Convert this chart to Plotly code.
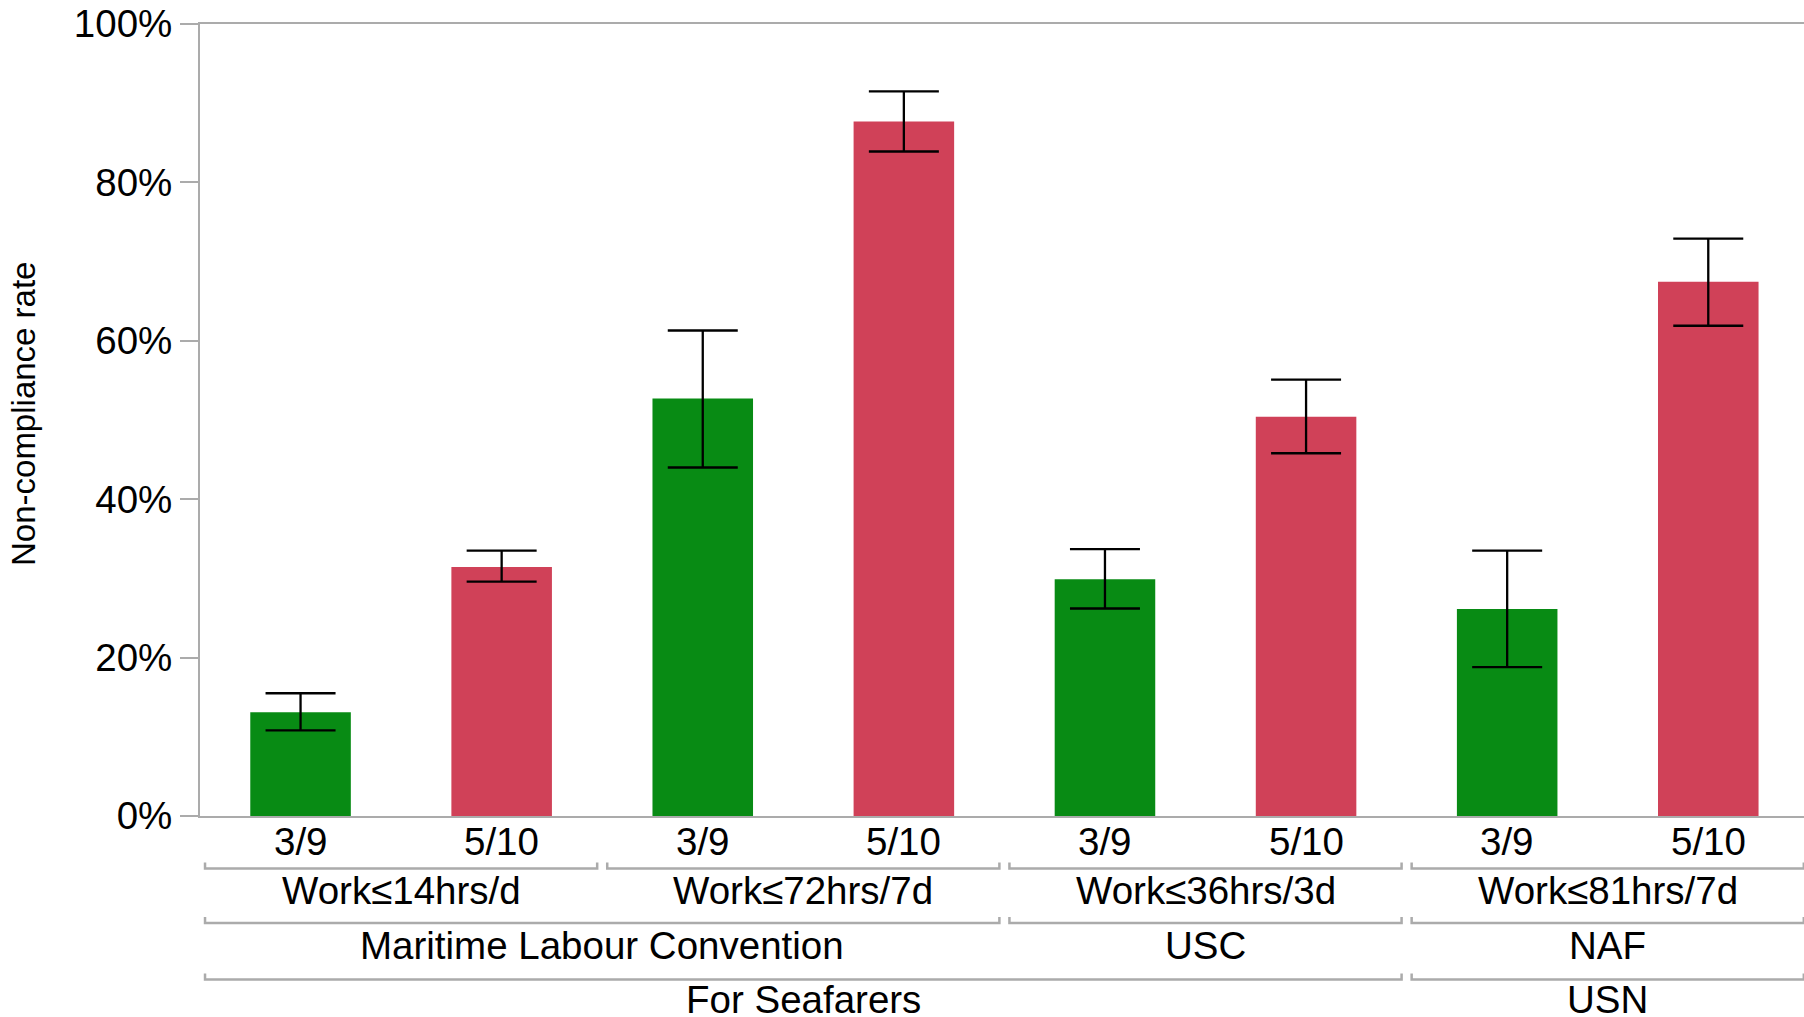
import plotly.graph_objects as go

# ---- data ----
periods = ["3/9", "5/10", "3/9", "5/10", "3/9", "5/10", "3/9", "5/10"]
values = [13.1, 31.45, 52.7, 87.7, 29.9, 50.4, 26.15, 67.45]
ci_upper = [15.5, 33.5, 61.3, 91.5, 33.7, 55.1, 33.5, 72.9]
ci_lower = [10.8, 29.6, 44.0, 83.9, 26.2, 45.8, 18.8, 61.9]

rule_groups = [("Work≤14hrs/d", 0, 1), ("Work≤72hrs/7d", 2, 3),
               ("Work≤36hrs/3d", 4, 5), ("Work≤81hrs/7d", 6, 7)]
body_groups = [("Maritime Labour Convention", 0, 3), ("USC", 4, 5), ("NAF", 6, 7)]
top_groups = [("For Seafarers", 0, 5), ("USN", 6, 7)]

y_ticks = [0, 20, 40, 60, 80, 100]
y_tick_labels = ["0%", "20%", "40%", "60%", "80%", "100%"]

period_colors = {"3/9": "#088B14", "5/10": "#D04158"}

# ---- layout constants ----
W, H = 1804, 1017
ML, MR, MT, MB = 200, 0, 24, 201
PLOT_H = H - MT - MB
AXIS_GRAY = "#ABABAB"
FONT = "Liberation Sans, Arial, Helvetica, sans-serif"
FS = 38.5


def paper_y(py):
    return (H - MB - py) / PLOT_H


xs = list(range(len(values)))
err_plus = [u - v for u, v in zip(ci_upper, values)]
err_minus = [v - l for v, l in zip(values, ci_lower)]

fig = go.Figure()
fig.add_trace(go.Bar(
    x=xs, y=values, width=0.5,
    marker=dict(color=[period_colors[p] for p in periods], line=dict(width=0)),
    error_y=dict(type="data", symmetric=False, array=err_plus, arrayminus=err_minus,
                 color="black", thickness=2.3, width=35),
    showlegend=False,
))

shapes = []
annotations = []

# first level labels (periods)
for x, p in zip(xs, periods):
    annotations.append(dict(
        x=x, y=paper_y(841.5), xref="x", yref="paper", text=p, showarrow=False,
        xanchor="center", yanchor="middle",
        font=dict(size=FS, color="black", family=FONT),
    ))

INSET = 0.025
TICK_PX = 6 / PLOT_H
levels = [
    (rule_groups, 868.5, 890.5),
    (body_groups, 923.0, 945.7),
    (top_groups, 979.5, 999.5),
]
for groups, line_py, label_py in levels:
    yl = paper_y(line_py)
    for label, s, e in groups:
        x0 = s - 0.5 + INSET
        x1 = e + 0.5 - INSET
        shapes.append(dict(
            type="path", xref="x", yref="paper",
            path=f"M {x0},{yl + TICK_PX} L {x0},{yl} L {x1},{yl} L {x1},{yl + TICK_PX}",
            line=dict(color=AXIS_GRAY, width=2.5),
        ))
        annotations.append(dict(
            x=(s + e) / 2, y=paper_y(label_py), xref="x", yref="paper",
            text=label, showarrow=False, xanchor="center", yanchor="middle",
            font=dict(size=FS, color="black", family=FONT),
        ))

annotations.append(dict(
    x=(23 - ML) / (W - ML - MR), y=paper_y(414), xref="paper", yref="paper",
    text="Non-compliance rate", textangle=-90, showarrow=False,
    xanchor="center", yanchor="middle",
    font=dict(size=33, color="black", family=FONT),
))

fig.update_layout(
    width=W, height=H,
    margin=dict(l=ML, r=MR, t=MT, b=MB),
    paper_bgcolor="white", plot_bgcolor="white",
    font=dict(family=FONT, color="black"),
    shapes=shapes, annotations=annotations,
)
fig.update_xaxes(
    range=[-0.5, 7.476], showticklabels=False,
    ticks="", showgrid=False, zeroline=False,
    showline=True, mirror=True, linecolor=AXIS_GRAY, linewidth=2,
)
fig.update_yaxes(
    range=[0, 100], tickmode="array", tickvals=y_ticks, ticktext=y_tick_labels,
    ticks="outside", ticklen=18, tickwidth=2, tickcolor=AXIS_GRAY,
    showgrid=False, zeroline=False,
    showline=True, mirror=False, linecolor=AXIS_GRAY, linewidth=2,
    tickfont=dict(size=FS, color="black", family=FONT),
)

fig.write_html(
    "out.html",
    config={"displayModeBar": False},
    post_script="document.body.style.margin='0';document.body.style.overflow='hidden';",
)
